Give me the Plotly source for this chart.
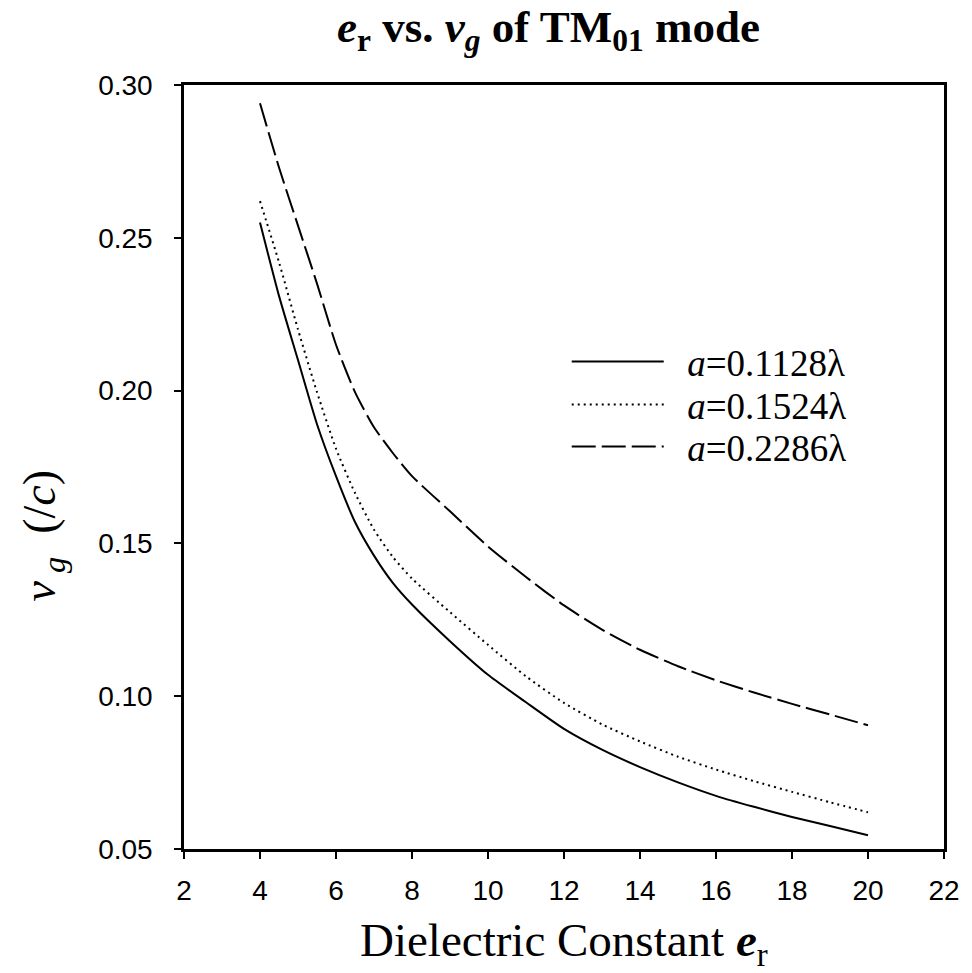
import plotly.graph_objects as go

# Dielectric constant (x)
er = [4, 4.5, 5, 5.5, 6, 6.5, 7, 7.5, 8, 9, 10, 11, 12, 13, 14, 15, 16, 17, 18, 19, 20]

# group velocity vg (/c) for three radii
vg_01128 = [0.255, 0.231, 0.210, 0.189, 0.172, 0.157, 0.146, 0.137, 0.130, 0.118, 0.107,
            0.098, 0.0893, 0.0825, 0.0768, 0.0718, 0.0674, 0.0638, 0.0605, 0.0575, 0.0545]
vg_01524 = [0.262, 0.242, 0.220, 0.1995, 0.181, 0.1665, 0.1545, 0.1455, 0.1385, 0.1275, 0.1168,
            0.1065, 0.0978, 0.0908, 0.0852, 0.0802, 0.0760, 0.0722, 0.0687, 0.0653, 0.0620]
vg_02286 = [0.294, 0.273, 0.254, 0.235, 0.215, 0.1995, 0.188, 0.1795, 0.172, 0.1605, 0.149,
            0.139, 0.1297, 0.1218, 0.1152, 0.1098, 0.1052, 0.1012, 0.0975, 0.094, 0.0905]

names = ["\u00a0\u00a0<i>a</i>=0.1128λ", "\u00a0\u00a0<i>a</i>=0.1524λ", "\u00a0\u00a0<i>a</i>=0.2286λ"]
dashes = ["solid", "2px,4px", "24px,6px"]
legend_ids = ["legend", "legend2", "legend3"]
legend_y = [0.6374, 0.5812, 0.5262]

x_ticks = [2, 4, 6, 8, 10, 12, 14, 16, 18, 20, 22]
y_ticks = [0.05, 0.10, 0.15, 0.20, 0.25, 0.30]

SERIF = "Liberation Serif, Times New Roman, serif"

fig = go.Figure()
for ys, nm, ds, lg in zip([vg_01128, vg_01524, vg_02286], names, dashes, legend_ids):
    fig.add_trace(go.Scatter(x=er, y=ys, mode="lines", name=nm, legend=lg,
                             line=dict(color="black", width=2, dash=ds, shape="spline", smoothing=0.6)))

axis_common = dict(showline=True, linecolor="black", linewidth=2.5, mirror=True,
                   ticks="outside", ticklen=7, tickwidth=2, tickcolor="black",
                   showgrid=False, zeroline=False,
                   tickfont=dict(family="Liberation Sans, Arial", size=28, color="black"))

fig.update_xaxes(range=[2, 22], tickvals=x_ticks, ticktext=[str(v) for v in x_ticks],
                 ticklabelstandoff=8, **axis_common)
fig.update_yaxes(range=[0.05, 0.30], tickvals=y_ticks, ticktext=[f"{v:.2f}" for v in y_ticks],
                 ticklabelstandoff=16, **axis_common)

leg_common = dict(x=0.5036, xanchor="left", yanchor="middle", bgcolor="rgba(0,0,0,0)",
                  itemwidth=92, font=dict(family=SERIF, size=37, color="black"))
fig.update_layout(
    width=972, height=973,
    margin=dict(l=184, r=20, t=85, b=124),
    plot_bgcolor="white", paper_bgcolor="white",
    showlegend=True,
    legend=dict(y=legend_y[0], **leg_common),
    legend2=dict(y=legend_y[1], **leg_common),
    legend3=dict(y=legend_y[2], **leg_common),
    font=dict(family=SERIF, color="black"),
)

# title
fig.add_annotation(text="<b><i>e</i><sub>r</sub> vs. <i>v</i><sub><i>g</i></sub> of TM<sub>01</sub> mode</b>",
                   xref="paper", yref="paper", x=0.48, y=1.0, yshift=25, xanchor="center", yanchor="bottom",
                   showarrow=False, font=dict(size=45, family=SERIF, color="black"))
# x label
fig.add_annotation(text="Dielectric Constant <b><i>e</i></b><sub>r</sub>",
                   xref="paper", yref="paper", x=0.5, y=0, yshift=-63, xanchor="center", yanchor="top",
                   showarrow=False, font=dict(size=47, family=SERIF, color="black"))
# y label
fig.add_annotation(text="<i>v</i><sub>\u00a0<i>g</i></sub>\u00a0\u00a0(/<i>c</i>)", textangle=-90,
                   xref="paper", yref="paper", x=-0.186, y=0.41, xanchor="center", yanchor="middle",
                   showarrow=False, font=dict(size=46, family=SERIF, color="black"))

fig.write_html("out.html")
